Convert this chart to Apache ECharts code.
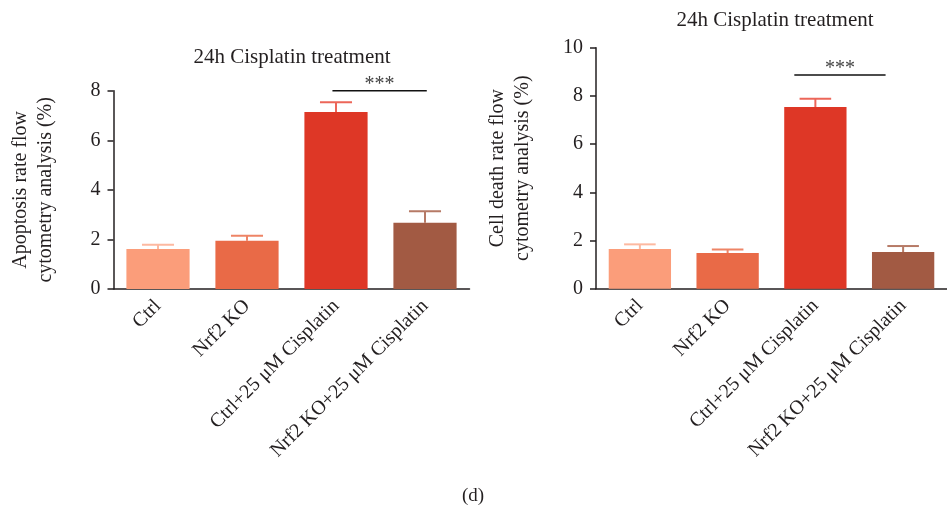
<!DOCTYPE html>
<html>
<head>
<meta charset="utf-8">
<script src="https://cdn.jsdelivr.net/npm/echarts@6/dist/echarts.min.js"></script>
<style>html,body{margin:0;padding:0;background:#fff;}#c{width:947px;height:514px;}</style>
</head>
<body>
<div id="c"></div>
<script>
const categories = ['Ctrl', 'Nrf2 KO', 'Ctrl+25 μM Cisplatin', 'Nrf2 KO+25 μM Cisplatin'];
const apoptosisMean = [1.61, 1.95, 7.14, 2.67];
const apoptosisErr = [0.18, 0.20, 0.39, 0.47];
const deathMean = [1.65, 1.48, 7.54, 1.52];
const deathErr = [0.19, 0.15, 0.34, 0.25];
const yTicksLeft = [0, 2, 4, 6, 8];
const yTicksRight = [0, 2, 4, 6, 8, 10];
// significance bars: [fromCategory, toCategory, yValue, fromOffsetBand, toOffsetBand]
const sigLeft = [[2, 3, 8.0, -0.04, 0.02]];
const sigRight = [[2, 3, 8.87, -0.24, -0.2]];
const sigLabel = '***';

const barColors = ['#FB9D7A', '#E96A47', '#DE3726', '#A25A43'];
const errColors = ['#FDB9A0', '#EE8466', '#EC6659', '#B67A66'];
const FONT = '"Liberation Serif", "DejaVu Serif", serif';
const INK = '#231f20';

function barData(vals) {
  return vals.map((v, i) => ({ value: v, itemStyle: { color: barColors[i] } }));
}
function errData(means, errs) {
  return means.map((m, i) => [i, m, errs[i]]);
}
function errRender(params, api) {
  const i = api.value(0);
  const top = api.coord([i, api.value(1)]);
  const up = api.coord([i, api.value(1) + api.value(2)]);
  const band = api.size([1, 0])[0];
  const hw = band * 0.18;
  const col = errColors[i];
  return {
    type: 'group',
    children: [
      { type: 'line', shape: { x1: top[0], y1: top[1], x2: up[0], y2: up[1] }, style: { stroke: col, lineWidth: 2 } },
      { type: 'line', shape: { x1: up[0] - hw, y1: up[1], x2: up[0] + hw, y2: up[1] }, style: { stroke: col, lineWidth: 2 } }
    ]
  };
}
function sigRender(params, api) {
  const band = api.size([1, 0])[0];
  const a = api.coord([api.value(0), api.value(2)]);
  const b = api.coord([api.value(1), api.value(2)]);
  const x1 = a[0] + api.value(3) * band;
  const x2 = b[0] + api.value(4) * band;
  return {
    type: 'group',
    children: [
      { type: 'line', shape: { x1: x1, y1: a[1], x2: x2, y2: a[1] }, style: { stroke: '#111', lineWidth: 1.5 } },
      { type: 'text', x: (x1 + x2) / 2, y: a[1] + 4, style: { text: sigLabel, fontSize: 20, fontFamily: FONT, fill: '#444', align: 'center', verticalAlign: 'bottom' } }
    ]
  };
}

const axisLineStyle = { color: INK, width: 1.5 };
function xAxis(gi) {
  return {
    type: 'category', gridIndex: gi, data: categories,
    axisLine: { lineStyle: axisLineStyle },
    axisTick: { alignWithLabel: true, length: 6, lineStyle: axisLineStyle },
    axisLabel: { rotate: 45, fontSize: 20, fontFamily: FONT, color: INK, margin: 14, interval: 0 }
  };
}
function yAxis(gi, max, name, gap) {
  return {
    type: 'value', gridIndex: gi, min: 0, max: max, interval: 2,
    name: name, nameLocation: 'middle', nameGap: gap, nameRotate: 90,
    nameTextStyle: { fontSize: 20, fontFamily: FONT, color: INK, lineHeight: 25 },
    axisLine: { show: true, lineStyle: axisLineStyle },
    axisTick: { show: true, length: 6, lineStyle: axisLineStyle },
    splitLine: { show: false },
    axisLabel: { fontSize: 20, fontFamily: FONT, color: INK, margin: 13 }
  };
}

const chart = echarts.init(document.getElementById('c'), null, { renderer: 'canvas' });
chart.setOption({
  animation: false,
  backgroundColor: '#fff',
  grid: [
    { left: 113.5, top: 90.7, width: 356, height: 198.3 },
    { left: 596, top: 47.7, width: 356, height: 241 }
  ],
  xAxis: [xAxis(0), xAxis(1)],
  yAxis: [
    yAxis(0, yTicksLeft[yTicksLeft.length - 1], 'Apoptosis rate flow\ncytometry analysis (%)', 55),
    yAxis(1, yTicksRight[yTicksRight.length - 1], 'Cell death rate flow\ncytometry analysis (%)', 61)
  ],
  graphic: [
    { type: 'text', x: 292, y: 57, style: { text: '24h Cisplatin treatment', fontSize: 21, fontFamily: FONT, fill: INK, align: 'center', verticalAlign: 'middle' } },
    { type: 'text', x: 775, y: 20, style: { text: '24h Cisplatin treatment', fontSize: 21, fontFamily: FONT, fill: INK, align: 'center', verticalAlign: 'middle' } },
    { type: 'text', x: 473, y: 496, style: { text: '(d)', fontSize: 19, fontFamily: FONT, fill: INK, align: 'center', verticalAlign: 'middle' } }
  ],
  series: [
    { type: 'bar', xAxisIndex: 0, yAxisIndex: 0, data: barData(apoptosisMean), barWidth: '71%' },
    { type: 'custom', xAxisIndex: 0, yAxisIndex: 0, data: errData(apoptosisMean, apoptosisErr), renderItem: errRender, z: 1 },
    { type: 'custom', xAxisIndex: 0, yAxisIndex: 0, data: sigLeft, renderItem: sigRender },
    { type: 'bar', xAxisIndex: 1, yAxisIndex: 1, data: barData(deathMean), barWidth: '71%' },
    { type: 'custom', xAxisIndex: 1, yAxisIndex: 1, data: errData(deathMean, deathErr), renderItem: errRender, z: 1 },
    { type: 'custom', xAxisIndex: 1, yAxisIndex: 1, data: sigRight, renderItem: sigRender }
  ]
});
</script>
</body>
</html>
